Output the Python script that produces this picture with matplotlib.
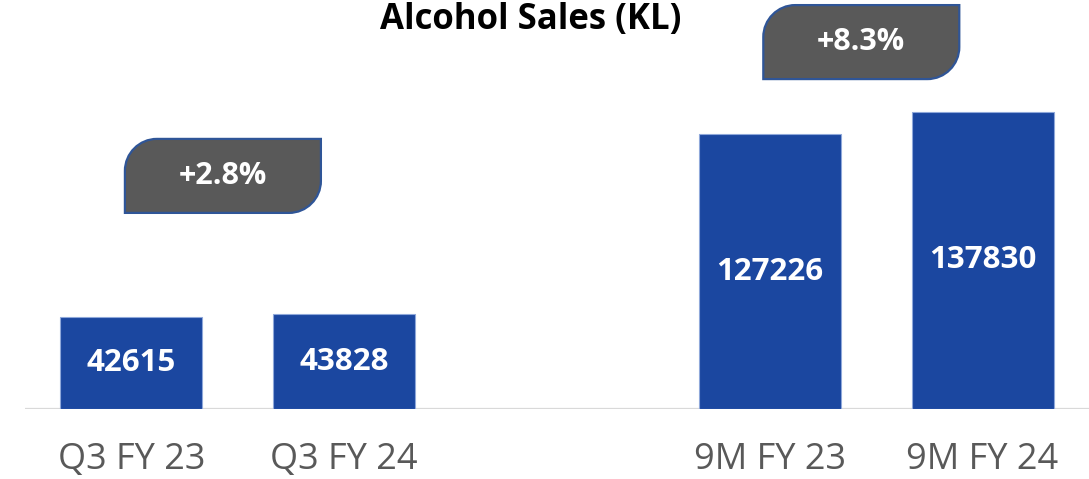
import matplotlib
matplotlib.use("Agg")
import matplotlib.pyplot as plt
from matplotlib.path import Path
from matplotlib.patches import PathPatch
from matplotlib.transforms import IdentityTransform

# Data
categories = ["Q3 FY 23", "Q3 FY 24", "9M FY 23", "9M FY 24"]
sales_kl = [42615, 43828, 127226, 137830]
positions = [0, 1, 3, 4]
growth_labels = ["+2.8%", "+8.3%"]
growth_anchor_x = [0.43, 3.43]       # callout centres (data x)
growth_anchor_y = [108000, 170000]   # callout centres (data y)

BAR_COLOR = "#1B47A0"
CALLOUT_FILL = "#595959"
CALLOUT_EDGE = "#2F5597"
TICK_COLOR = "#595959"
FONT = ["Open Sans", "DejaVu Sans"]

W, H, DPI = 1089, 479, 100
fig = plt.figure(figsize=(W / DPI, H / DPI), dpi=DPI)
ax = fig.add_axes([25 / W, 70 / H, 1 - 25 / W, 1 - 70 / H])
ax.set_xlim(-0.5, 4.5)
ax.set_ylim(0, 189500)

ax.bar(positions, sales_kl, width=0.667, color=BAR_COLOR,
       edgecolor="#8FA8DA", linewidth=0.8, zorder=2)

for x, v in zip(positions, sales_kl):
    ax.text(x, v / 2, f"{v}", ha="center", va="center", color="white",
            fontsize=22.5, fontweight="bold", family=FONT, zorder=3)

ax.axhline(0, color="#D9D9D9", linewidth=1.6, zorder=1)

for s in ax.spines.values():
    s.set_visible(False)
ax.set_yticks([])
ax.set_xticks(positions)
ax.set_xticklabels(categories, family=FONT, fontsize=26, color=TICK_COLOR)
ax.tick_params(axis="x", length=0, pad=24)

fig.text(531 / W, 1 - 29 / H, "Alcohol Sales (KL)", ha="center", va="baseline",
         fontsize=25, fontweight="bold", family=FONT, color="black")


def callout_path(cx, cy, w, h, r):
    """Rectangle with rounded top-left and bottom-right corners (pixel units)."""
    x0, x1 = cx - w / 2, cx + w / 2
    y0, y1 = cy - h / 2, cy + h / 2
    k = 0.5523
    verts = [
        (x0, y0),
        (x1 - r, y0),
        (x1 - r + k * r, y0), (x1, y0 + r - k * r), (x1, y0 + r),
        (x1, y1),
        (x0 + r, y1),
        (x0 + r - k * r, y1), (x0, y1 - r + k * r), (x0, y1 - r),
        (x0, y0),
    ]
    codes = [Path.MOVETO, Path.LINETO,
             Path.CURVE4, Path.CURVE4, Path.CURVE4,
             Path.LINETO, Path.LINETO,
             Path.CURVE4, Path.CURVE4, Path.CURVE4,
             Path.CLOSEPOLY]
    return Path(verts, codes)


for gx, gy, label in zip(growth_anchor_x, growth_anchor_y, growth_labels):
    px, py = ax.transData.transform((gx, gy))
    patch = PathPatch(callout_path(px, py, 196, 74, 32), facecolor=CALLOUT_FILL,
                      edgecolor=CALLOUT_EDGE, linewidth=1.6,
                      transform=IdentityTransform(), zorder=4)
    fig.patches.append(patch)
    fig.text(px / W, py / H, label, ha="center", va="center", color="white",
             fontsize=22, fontweight="bold", family=FONT, zorder=5)

fig.savefig("out.png", dpi=DPI)
